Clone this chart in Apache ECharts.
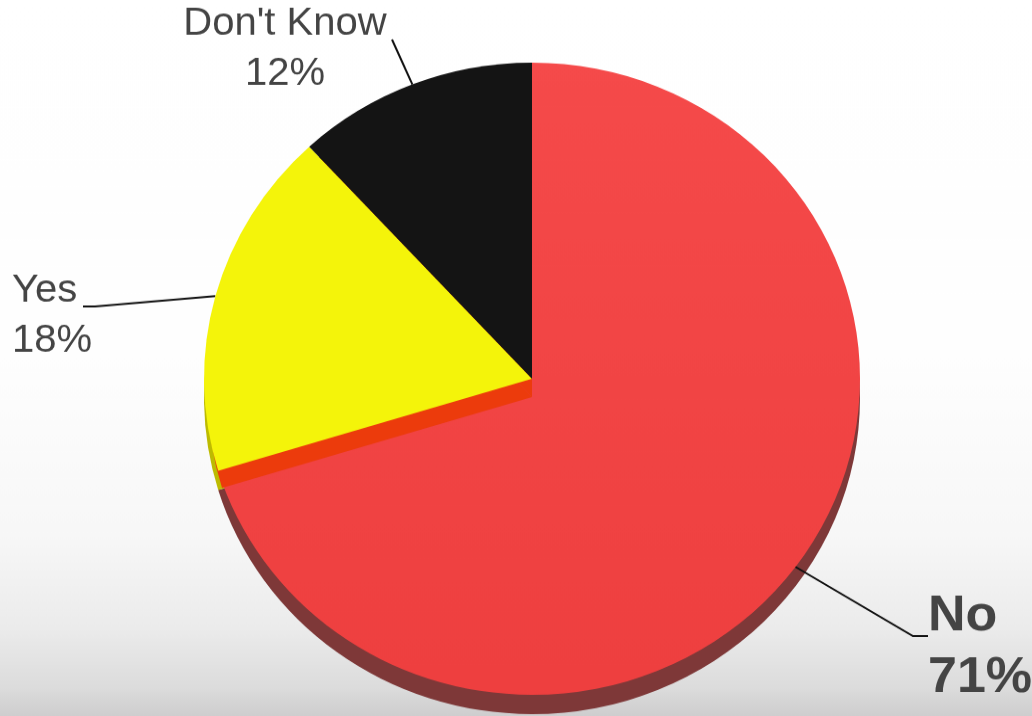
<!DOCTYPE html>
<html>
<head>
<meta charset="utf-8">
<script src="https://cdn.jsdelivr.net/npm/echarts@6/dist/echarts.min.js"></script>
<style>
  html, body { margin: 0; padding: 0; overflow: hidden; width: 1032px; height: 716px; }
  /* the disc is viewed slightly from above, so the whole drawing is flattened a little */
  #chart { width: 1032px; height: 743px; transform: scaleY(0.9637); transform-origin: 0 0; }
</style>
</head>
<body>
<div id="chart"></div>
<script>
// Survey answers
const categories = ['No', 'Yes', "Don't Know"];
const values = [71, 18, 12];

// Palette: top faces, side walls, and the cut face under the raised wedges
const faceColors = [
  { type: 'linear', x: 0, y: 0, x2: 0, y2: 1,
    colorStops: [{ offset: 0, color: '#f54a4a' }, { offset: 1, color: '#ee3f3f' }] },
  '#f4f40a',
  '#141414'
];
const sideColors = ['#7e3838', '#bdbb00', '#050505'];
const cutColor = '#ec3b0c';
const clear = 'rgba(0,0,0,0)';

// Pie geometry (in the unflattened drawing space)
const CX = 532, CY = 393, R = 328, DEPTH = 20, CUT = 19;

// Label styles and placement
const labelStyles = [
  { fontSize: 52, fontWeight: 'bold', lineHeight: 64 },
  { fontSize: 40, fontWeight: 'normal', lineHeight: 52 },
  { fontSize: 40, fontWeight: 'normal', lineHeight: 52 }
];
const labelPlacement = [
  { x: 928, y: 672, align: 'left', bend: [913, 660], end: [928, 660] },
  { x: 12, y: 328, align: 'left', bend: [95, 318], end: [83, 318] },
  { x: 285, y: 51, align: 'center', bend: [392, 41], end: [392, 41] }
];

function slices(colorFor, withLabels) {
  return categories.map((name, i) => {
    const item = { name: name, value: values[i], itemStyle: { color: colorFor(i) } };
    if (withLabels) {
      item.label = Object.assign({ show: true }, labelStyles[i]);
    }
    return item;
  });
}

const basePie = {
  type: 'pie',
  startAngle: 90,
  clockwise: true,
  silent: true,
  avoidLabelOverlap: false,
  label: { show: false },
  labelLine: { show: false },
  emphasis: { disabled: true }
};

const chart = echarts.init(document.getElementById('chart'), null, { renderer: 'canvas' });
chart.setOption({
  animation: false,
  backgroundColor: {
    type: 'linear', x: 0, y: 0, x2: 0, y2: 1,
    colorStops: [
      { offset: 0, color: '#ffffff' },
      { offset: 0.5, color: '#fefefe' },
      { offset: 0.75, color: '#f7f7f7' },
      { offset: 0.88, color: '#ebebeb' },
      { offset: 0.96, color: '#dcdcdc' },
      { offset: 1, color: '#cecdce' }
    ]
  },
  textStyle: { fontFamily: 'Liberation Sans, Arial, sans-serif' },
  series: [
    // side wall of the disc
    Object.assign({}, basePie, {
      z: 1, center: [CX, CY + DEPTH], radius: R,
      data: slices(i => sideColors[i], false)
    }),
    // top face of the "No" wedge
    Object.assign({}, basePie, {
      z: 2, center: [CX, CY], radius: R,
      data: slices(i => (i === 0 ? faceColors[0] : clear), false)
    }),
    // cut face below the raised wedges
    Object.assign({}, basePie, {
      z: 3, center: [CX, CY + CUT], radius: R - 4,
      data: slices(i => (i === 0 ? clear : cutColor), false)
    }),
    // top faces of the raised wedges, carrying the labels
    Object.assign({}, basePie, {
      z: 4, center: [CX, CY], radius: R,
      data: slices(i => (i === 0 ? clear : faceColors[i]), true),
      label: {
        show: true,
        position: 'outside',
        formatter: '{b}\n{c}%',
        color: '#444444',
        fontFamily: 'Liberation Sans, Arial, sans-serif'
      },
      labelLine: {
        show: true,
        length: 10,
        length2: 10,
        lineStyle: { color: '#111111', width: 2 }
      },
      labelLayout: function (p) {
        const s = labelPlacement[p.dataIndex];
        return {
          x: s.x,
          y: s.y,
          align: s.align,
          verticalAlign: 'middle',
          labelLinePoints: [p.labelLinePoints[0], s.bend, s.end]
        };
      }
    })
  ]
});
</script>
</body>
</html>
